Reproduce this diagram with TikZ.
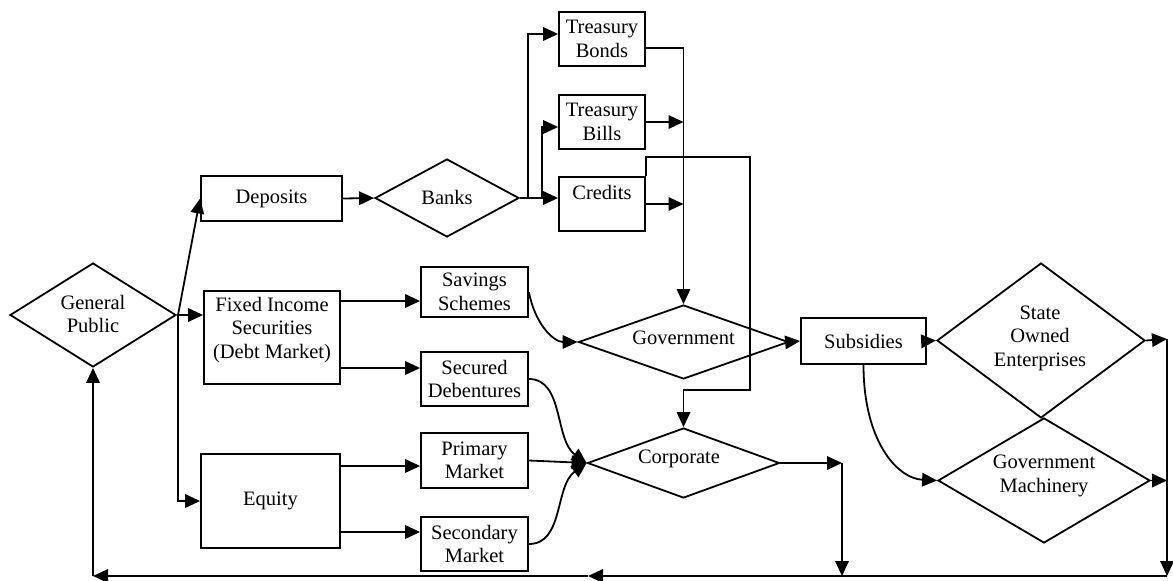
\documentclass[tikz,border=0pt]{standalone}
\usepackage{fontspec}
\setmainfont{Liberation Serif}
\usetikzlibrary{shapes.geometric,arrows.meta}
\newcommand{\dfont}{\fontsize{20.5}{23.5}\selectfont}
\begin{document}
\begin{tikzpicture}[x=1pt,y=-1pt,line width=1.8pt,
  box/.style={draw,rectangle,inner sep=0pt,align=center,font=\dfont},
  dia/.style={draw,diamond,inner sep=0pt},
  txt/.style={inner sep=0pt,align=center,font=\dfont},
  arr/.style={-{Triangle[length=15pt,width=13.5pt]}}]
\useasboundingbox (0,0) rectangle (1173,581);

% diamonds
\node[dia,minimum width=166pt,minimum height=104pt] (gp) at (93,315) {};
\node[txt] (gpT) at (93,314) {General\\Public};
\node[dia,minimum width=144pt,minimum height=78pt] (banks) at (447,198) {};
\node[txt] (banksT) at (447,197) {Banks};
\node[dia,minimum width=210pt,minimum height=74pt] (gov) at (683.5,342) {};
\node[txt] (govT) at (683.5,338) {Government};
\node[dia,minimum width=192pt,minimum height=70pt] (corp) at (683.5,463) {};
\node[txt] (corpT) at (679,459) {Corporate};
\node[dia,minimum width=208pt,minimum height=155pt] (soe) at (1041,340.5) {};
\node[txt] (soeT) at (1040,338) {State\\Owned\\Enterprises};
\node[dia,minimum width=212pt,minimum height=125pt] (gm) at (1044,480.5) {};
\node[txt] (gmT) at (1044,476) {Government\\Machinery};

% boxes
\node[box,minimum width=141pt,minimum height=45pt] (dep) at (271.5,198.5) {Deposits};
\node[box,minimum width=136pt,minimum height=93pt] (fis) at (272,337.5) {};
\node[txt] (fisT) at (272,330) {Fixed Income\\Securities\\(Debt Market)};
\node[box,minimum width=139pt,minimum height=94pt] (eq) at (270.5,501) {Equity};
\node[box,minimum width=107pt,minimum height=50pt] (sav) at (474.5,292) {Savings\\Schemes};
\node[box,minimum width=107pt,minimum height=54pt] (sec) at (474.5,379) {Secured\\Debentures};
\node[box,minimum width=107pt,minimum height=55pt] (pri) at (474.5,460.5) {Primary\\Market};
\node[box,minimum width=107pt,minimum height=54pt] (secm) at (474.5,544) {Secondary\\Market};
\node[box,minimum width=86pt,minimum height=54pt] (tbond) at (602,39) {Treasury\\Bonds};
\node[box,minimum width=86pt,minimum height=54pt] (tbill) at (602,122) {Treasury\\Bills};
\node[box,minimum width=86pt,minimum height=54pt] (cred) at (602,204) {};
\node[txt] (credT) at (602,192) {Credits};
\node[box,minimum width=125pt,minimum height=46pt] (subs) at (863.5,341) {Subsidies};

% helper coordinates
\coordinate (j1) at (178,315);
\coordinate (b1) at (528,198);
\coordinate (b2) at (542,198);
\coordinate (r1) at (750,157);
\coordinate (r2) at (750,390);
\coordinate (rt) at (1167,339);
\coordinate (rb) at (1167,576);
\coordinate (ct) at (842,463);
\coordinate (bm) at (588,576);
\coordinate (bl) at (93,576);
\path ([yshift=-9pt]sav.west) coordinate (savIn)
      ([yshift=11pt]sec.west) coordinate (secIn)
      ([yshift=-5.5pt]pri.west) coordinate (priIn)
      ([yshift=12pt]secm.west) coordinate (secmIn);

% connectors
\draw (gp.east) -- (j1);
\draw[arr] (j1) -- (dep.west);
\draw[arr] (j1) -- (fis.west |- j1);
\draw[arr] (j1) |- (eq.west);
\draw[arr] (dep.east) -- (banks.west);
\draw[arr] (fis.east |- savIn) -- (savIn);
\draw[arr] (fis.east |- secIn) -- (secIn);
\draw[arr] (eq.east |- priIn) -- (priIn);
\draw[arr] (eq.east |- secmIn) -- (secmIn);
\draw[arr] (banks.east) -- (banks.east -| cred.west);
\draw[arr] (b1) |- ([yshift=5pt]tbond.west);
\draw[arr] (b2) |- ([yshift=-5pt]tbill.west);
\draw[arr] ([yshift=-9pt]tbond.east) -| (gov.north);
\draw[arr] (tbill.east) -- (tbill.east -| gov.north);
\draw[arr] (cred.east) -- (cred.east -| gov.north);
\draw[arr] (cred.north east) |- (r1) -- (r2) -| (corp.north);
\draw[arr] (sav.east) .. controls +(6,32) and +(-24,0) .. (gov.west);
\draw[arr] (sec.east) .. controls +(35,0) and +(-32,-23) .. (corp.west);
\draw[arr] (pri.east) -- (corp.west);
\draw[arr] (secm.east) .. controls +(35,0) and +(-32,23) .. (corp.west);
\draw[arr] (gov.east) -- (subs.west);
\draw[arr] (subs.east) -- (soe.west);
\draw[arr] (subs.south) .. controls +(0,76) and +(-40,-2) .. (gm.west);
\draw[arr] (soe.east) -- (rt);
\draw[arr] (gm.east) -- (gm.east -| rt);
\draw[arr] (rt) -- (rb);
\draw[arr] (corp.east) -- (ct);
\draw[arr] (ct) -- (ct |- rb);
\draw[arr] (rb) -- (bm);
\draw[arr] (bm) -- (bl);
\draw[arr] (bl) -- (gp.south);
\end{tikzpicture}
\end{document}
